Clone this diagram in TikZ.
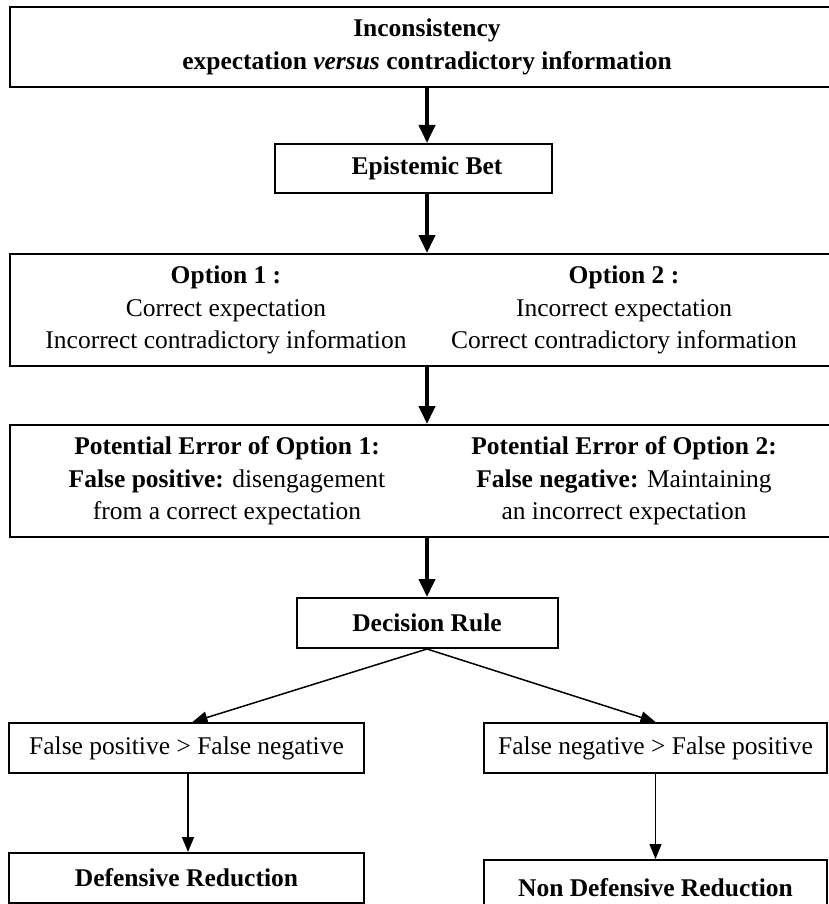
\documentclass[tikz,border=0pt]{standalone}
\usepackage{fontspec}
\setmainfont{Liberation Serif}
\usetikzlibrary{arrows.meta}
\begin{document}
\begin{tikzpicture}[x=1pt,y=-1pt,
  box/.style={draw, line width=2pt, rectangle, inner sep=0pt},
  txt/.style={align=center, font=\fontsize{25.5}{32.5}\selectfont, inner sep=0pt},
  bigarrow/.style={line width=4pt, -{Triangle[width=16pt,length=18pt]}},
  smallarrow/.style={line width=1.5pt, -{Triangle[width=12pt,length=15pt]}}]
\useasboundingbox (0,0) rectangle (829,904);
\fill[white] (0,0) rectangle (829,904);
\clip (0,0) rectangle (829,904);

\node[box, txt, minimum width=834pt, minimum height=80pt] (top) at (427,47)
  {\textbf{Inconsistency}\\\textbf{expectation \textit{versus} contradictory information}};

\node[box, minimum width=277pt, minimum height=49pt] (epi) at (413.5,168.5) {};
\node[txt] (epit) at (427,168.5) {\textbf{Epistemic Bet}};

\node[box, minimum width=834pt, minimum height=112pt] (opt) at (427,310) {};
\node[txt] (o1) at (226,310) {\textbf{Option 1 :}\\Correct expectation\\Incorrect contradictory information};
\node[txt] (o2) at (624,310) {\textbf{Option 2 :}\\Incorrect expectation\\Correct contradictory information};

\node[box, minimum width=834pt, minimum height=112pt] (pot) at (427,481) {};
\node[txt] (p1) at (227,481) {\textbf{Potential Error of Option 1:}\\\textbf{False positive:} disengagement\\from a correct expectation};
\node[txt] (p2) at (624,481) {\textbf{Potential Error of Option 2:}\\\textbf{False negative:} Maintaining\\an incorrect expectation};

\node[box, txt, minimum width=261pt, minimum height=50pt] (dec) at (427,623)
  {\textbf{Decision Rule}};

\node[box, txt, minimum width=355pt, minimum height=50pt] (fpfn) at (186.5,748)
  {False positive > False negative};
\node[box, txt, minimum width=343pt, minimum height=50pt] (fnfp) at (655.5,748)
  {False negative > False positive};

\node[box, txt, minimum width=355pt, minimum height=50pt] (def) at (186.5,878)
  {\textbf{Defensive Reduction}};
\node[box, txt, minimum width=343pt, minimum height=56pt] (ndr) at (655.5,888)
  {\textbf{Non Defensive Reduction}};

\draw[bigarrow] (top.south -| epit) -- (epi.north -| epit);
\draw[bigarrow] (epi.south -| epit) -- (opt.north -| epit);
\draw[bigarrow] (opt) -- (pot);
\draw[bigarrow] (pot.south) -- (dec.north);

\draw[smallarrow] (dec.south) -- ([xshift=6pt]fpfn.north);
\draw[smallarrow] (dec.south) -- (fnfp.north);
\draw[smallarrow] ([xshift=1.5pt]fpfn.south) -- ([xshift=1.5pt]def.north);
\draw[smallarrow] (fnfp.south) -- (ndr.north);
\end{tikzpicture}
\end{document}
